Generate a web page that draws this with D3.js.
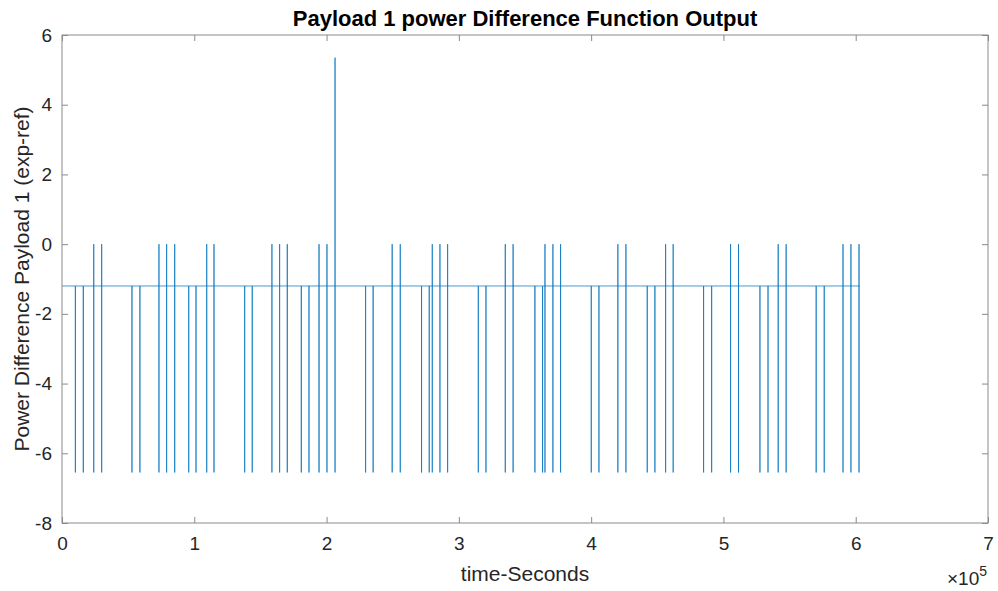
<!DOCTYPE html>
<html><head><meta charset="utf-8">
<script src="https://cdn.jsdelivr.net/npm/d3@7"></script>
<style>body{margin:0;background:#fff}svg{display:block;font-family:"Liberation Sans",Arial,sans-serif}</style>
</head><body><svg id="c" width="998" height="591"></svg>
<script>
// ---- data (time in units of 1e5 seconds) ----
const baseline = -1.2;
const lowValue = -6.55;
const highValue = 0;
const peakValue = 5.35;
const endTime = 6.03;
// spikes that dip only
const dipTimes = [0.101, 0.161, 0.529, 0.589, 0.958, 1.013, 1.381, 1.438, 1.809, 1.867,
  2.295, 2.352, 2.718, 2.776, 3.147, 3.205, 3.575, 3.633, 4.001, 4.059, 4.424, 4.482,
  4.850, 4.911, 5.276, 5.337, 5.701, 5.762];
// spikes that dip and also rise to 0
const dipRiseTimes = [0.240, 0.300, 0.733, 0.791, 0.852, 1.094, 1.149, 1.587, 1.645, 1.703,
  1.943, 2.003, 2.496, 2.557, 2.799, 2.857, 2.915, 3.351, 3.410, 3.651, 3.711, 3.769,
  4.202, 4.263, 4.563, 4.620, 5.054, 5.114, 5.414, 5.474, 5.904, 5.964, 6.025];
// spike that dips and rises to the peak
const peakTimes = [2.064];
const xTicks = [0, 1, 2, 3, 4, 5, 6, 7];
const yTicks = [-8, -6, -4, -2, 0, 2, 4, 6];

// ---- build series ----
const events = [];
dipTimes.forEach(t => events.push({t, hi: null}));
dipRiseTimes.forEach(t => events.push({t, hi: highValue}));
peakTimes.forEach(t => events.push({t, hi: peakValue}));
events.sort((a, b) => a.t - b.t);
const series = [[0, baseline]];
events.forEach(e => {
  series.push([e.t, baseline], [e.t, lowValue]);
  if (e.hi !== null) series.push([e.t, e.hi]);
  series.push([e.t, baseline]);
});
series.push([endTime, baseline]);

// ---- chart ----
const svg = d3.select("#c");
const L = 62, R = 988, T = 35, B = 523;
const x = d3.scaleLinear().domain([0, 7]).range([L, R]);
const y = d3.scaleLinear().domain([-8, 6]).range([B, T]);
const axisCol = "#262626", boxCol = "#8a8a8a";

svg.append("path")
  .datum(series)
  .attr("fill", "none")
  .attr("stroke", "#0072BD")
  .attr("stroke-width", 0.9)
  .attr("stroke-opacity", 0.8)
  .attr("d", d3.line().x(d => x(d[0])).y(d => y(d[1])));

// box
svg.append("rect").attr("x", L).attr("y", T).attr("width", R - L).attr("height", B - T)
  .attr("fill", "none").attr("stroke", boxCol).attr("stroke-width", 1);

const tl = 6;
const fmt = d => String(d);
const gx = svg.append("g").attr("transform", `translate(0,${B})`)
  .call(d3.axisBottom(x).tickValues(xTicks).tickSize(-tl).tickPadding(14).tickFormat(fmt));
const gxt = svg.append("g").attr("transform", `translate(0,${T})`)
  .call(d3.axisTop(x).tickValues(xTicks).tickSize(-tl).tickFormat(""));
const gy = svg.append("g").attr("transform", `translate(${L},0)`)
  .call(d3.axisLeft(y).tickValues(yTicks).tickSize(-tl).tickPadding(10).tickFormat(fmt));
const gyr = svg.append("g").attr("transform", `translate(${R},0)`)
  .call(d3.axisRight(y).tickValues(yTicks).tickSize(-tl).tickFormat(""));
[gx, gxt, gy, gyr].forEach(g => {
  g.select(".domain").remove();
  g.selectAll(".tick line").attr("stroke", boxCol);
  g.selectAll("text").attr("fill", axisCol).style("font-size", "19px").style("font-family", "'Liberation Sans',Arial,sans-serif");
});
gx.selectAll("text").attr("dy", "0.71em");

svg.append("text").attr("x", (L + R) / 2).attr("y", 26).attr("text-anchor", "middle")
  .style("font-size", "22px").style("font-weight", "bold").attr("fill", "#000")
  .text("Payload 1 power Difference Function Output");
svg.append("text").attr("x", (L + R) / 2).attr("y", 581).attr("text-anchor", "middle")
  .style("font-size", "21px").attr("fill", axisCol).text("time-Seconds");
svg.append("text").attr("transform", `translate(29,${(T + B) / 2}) rotate(-90)`).attr("text-anchor", "middle")
  .style("font-size", "21px").attr("fill", axisCol).text("Power Difference Payload 1 (exp-ref)");
const ex = svg.append("text").attr("x", 987).attr("y", 585).attr("text-anchor", "end")
  .style("font-size", "19px").attr("fill", axisCol);
ex.append("tspan").text("×10");
ex.append("tspan").attr("dy", -9).style("font-size", "14px").text("5");
</script></body></html>
